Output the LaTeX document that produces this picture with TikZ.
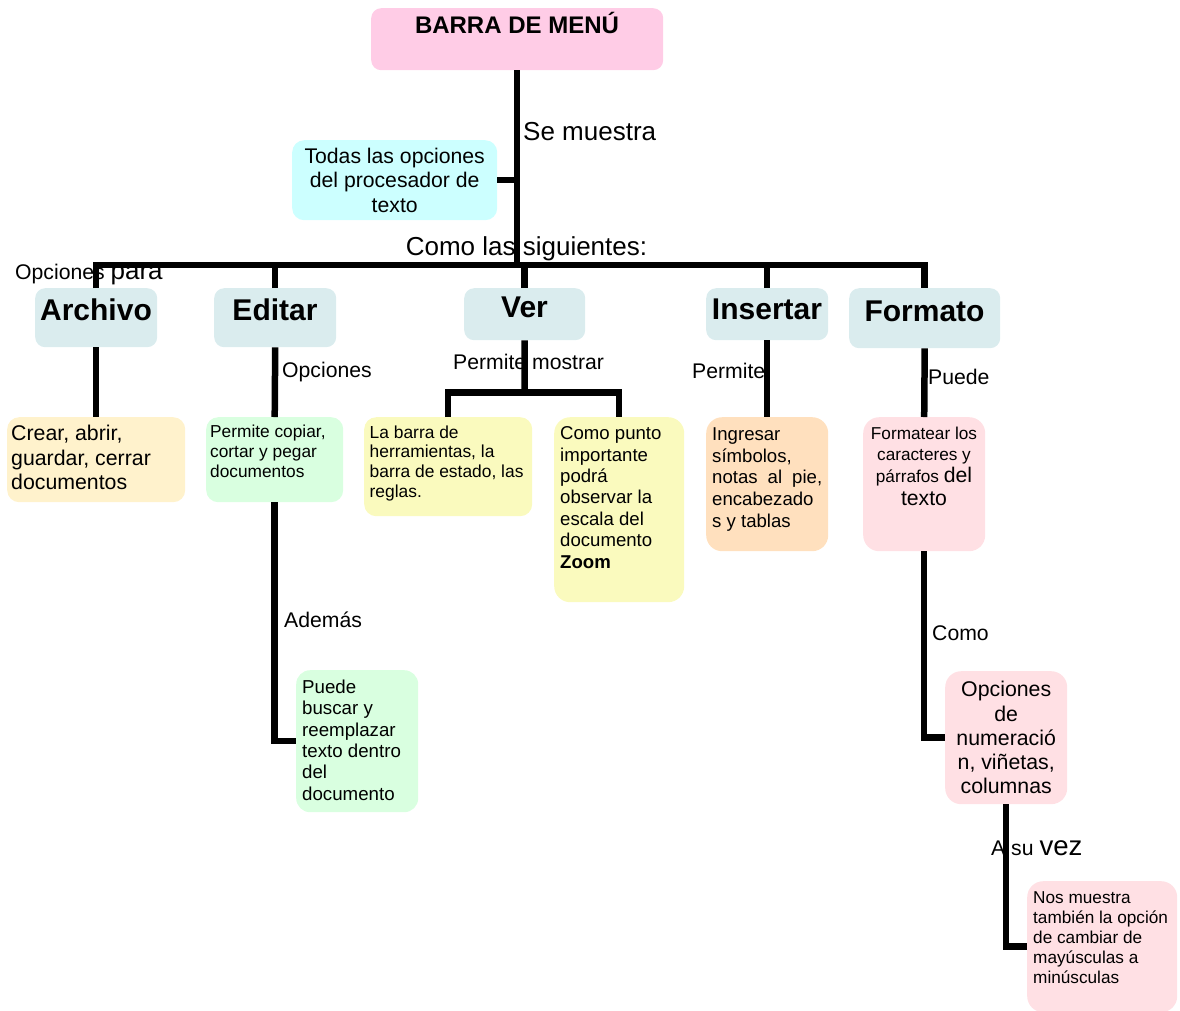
\documentclass[tikz,border=0pt]{standalone}
\usepackage{fontspec}
\setmainfont{Liberation Sans}
\definecolor{menupink}{RGB}{255,204,230}
\definecolor{cyanbox}{RGB}{204,255,255}
\definecolor{catbox}{RGB}{218,236,238}
\definecolor{creambox}{RGB}{255,242,204}
\definecolor{greenbox}{RGB}{217,255,224}
\definecolor{yellowbox}{RGB}{250,250,190}
\definecolor{orangebox}{RGB}{255,224,190}
\definecolor{rosebox}{RGB}{255,224,228}
\newcommand{\fsz}[2]{\fontsize{#1}{#2}\selectfont}

\begin{document}
\begin{tikzpicture}[x=1pt, y=-1pt,
    bx/.style={rectangle, rounded corners=10pt, inner sep=0pt, anchor=north west},
    hd/.style={anchor=base, inner sep=0pt, font=\fsz{30}{34}\bfseries},
    lbl/.style={anchor=base west, inner sep=0pt, font=\fsz{21.2}{24}},
    txt/.style={anchor=north west, inner sep=0pt, align=left},
    link/.style={line width=6.5pt}]
  \useasboundingbox (0,0) rectangle (1180,1010);

  % nivel superior
  \node[bx, fill=menupink, minimum width=292, minimum height=62] (menu) at (371,8) {};
  \node[anchor=base, inner sep=0pt, font=\fsz{24}{28}\bfseries] (menuT) at (517,33) {BARRA DE MENÚ};
  \node[bx, fill=cyanbox, rounded corners=12pt, minimum width=205, minimum height=80,
        align=center, font=\fsz{21.2}{24.4}] (todas) at (292,140) {Todas las opciones\\del procesador de\\texto};
  \node[lbl, font=\fsz{26}{30}] (seMuestra) at (523,140) {Se muestra};
  \node[lbl, anchor=base, font=\fsz{26}{30}] (comoLas) at (526.5,255) {Como las siguientes:};
  \node[lbl] (opcPara) at (15,279) {Opciones {\fsz{26}{30}para}};
  \coordinate (bar) at (517,265);

  % menus
  \node[bx, fill=catbox, minimum width=122, minimum height=59] (arch) at (35,288) {};
  \node[hd] (archT) at (96,320) {Archivo};
  \node[bx, fill=catbox, minimum width=122, minimum height=59] (edit) at (214,288) {};
  \node[hd] (editT) at (275,320) {Editar};
  \node[bx, fill=catbox, minimum width=121, minimum height=52] (ver) at (464,288) {};
  \node[hd] (verT) at (524.5,317) {Ver};
  \node[bx, fill=catbox, minimum width=122, minimum height=52] (ins) at (706,288) {};
  \node[hd] (insT) at (767,319) {Insertar};
  \node[bx, fill=catbox, minimum width=151, minimum height=60] (form) at (849,288) {};
  \node[hd] (formT) at (924.5,321) {Formato};

  \draw[link] (menu.south) -- (menu.south |- bar);
  \draw[link] (todas.east) -- (todas.east -| menu.south);
  \draw[link] (arch.north) -- (arch.north |- bar) -- (form.north |- bar) -- (form.north);
  \draw[link] (edit.north) -- (edit.north |- bar);
  \draw[link] (ver.north) -- (ver.north |- bar);
  \draw[link] (ins.north) -- (ins.north |- bar);

  % Archivo
  \node[bx, fill=creambox, rounded corners=12pt, minimum width=178, minimum height=85] (crear) at (7,417) {};
  \node[txt, font=\fsz{21.3}{24.4}] (crearT) at (11,425) {Crear, abrir,\\guardar, cerrar\\documentos};
  \draw[link] (arch.south) -- (crear.north);

  % Editar
  \node[bx, fill=greenbox, rounded corners=12pt, minimum width=137, minimum height=85] (copiar) at (206,417) {};
  \node[txt, font=\fsz{17.3}{20}] (copiarT) at (210,424.5) {Permite copiar,\\cortar y pegar\\documentos};
  \node[bx, fill=greenbox, rounded corners=14pt, minimum width=122, minimum height=142] (buscar) at (296,670) {};
  \node[txt, font=\fsz{18.7}{21.4}] (buscarT) at (302,679.5) {Puede\\buscar y\\reemplazar\\texto dentro\\del\\documento};
  \node[lbl] (opcEdit) at (282,377) {Opciones};
  \node[lbl] (ademas) at (284,627) {Además};
  \draw[link] (edit.south) -- (copiar.north);
  \draw[link] (copiar.south) |- (buscar.west);

  % Ver
  \coordinate (verSplit) at (524.5,392.5);
  \node[bx, fill=yellowbox, rounded corners=12pt, minimum width=168, minimum height=99] (barra) at (364,417) {};
  \node[txt, font=\fsz{17.4}{19.6}] (barraT) at (369.5,425.5) {La barra de\\herramientas, la\\barra de estado, las\\reglas.};
  \node[bx, fill=yellowbox, rounded corners=16pt, minimum width=130, minimum height=185] (punto) at (554,417) {};
  \node[txt, font=\fsz{18.6}{21.4}] (puntoT) at (560,426.5) {Como punto\\importante\\podrá\\observar la\\escala del\\documento\\\textbf{Zoom}};
  \node[lbl] (permMostrar) at (453,369) {Permite mostrar};
  \draw[link] (ver.south) -- (verSplit);
  \draw[link] (barra.north) |- (verSplit) -| (punto.north);

  % Insertar
  \node[bx, fill=orangebox, rounded corners=16pt, minimum width=122, minimum height=134] (ingr) at (706,417) {};
  \node[txt, font=\fsz{18.6}{21.7}] (ingrT) at (712,427.5) {Ingresar\\símbolos,\\\makebox[110pt][s]{notas al pie,}\\encabezado\\s y tablas};
  \node[lbl] (permite) at (692,378) {Permite};
  \draw[link] (ins.south) -- (ingr.north);

  % Formato
  \node[bx, fill=rosebox, rounded corners=16pt, minimum width=122, minimum height=134] (formt) at (863,417) {};
  \node[anchor=north, inner sep=0pt, align=center, font=\fsz{17.2}{21.5}] (formtT) at (924,426.5)
    {Formatear los\\caracteres y\\párrafos {\fsz{21.2}{24}del}\\[2pt]{\fsz{21.2}{24}texto}};
  \node[bx, fill=rosebox, rounded corners=16pt, minimum width=122, minimum height=133,
        align=center, font=\fsz{21.3}{24.3}] (numer) at (945,671) {Opciones\\de\\numeració\\n, viñetas,\\columnas};
  \node[bx, fill=rosebox, rounded corners=16pt, minimum width=150, minimum height=131] (nos) at (1027,881) {};
  \node[txt, font=\fsz{17.2}{20}] (nosT) at (1033,891) {Nos muestra\\también la opción\\de cambiar de\\mayúsculas a\\minúsculas};
  \node[lbl] (puede) at (928,384) {Puede};
  \node[lbl] (como) at (932,640) {Como};
  \node[lbl] (aSuVez) at (991,855) {A su {\fsz{27.6}{30}vez}};
  \draw[link] (form.south) -- (formt.north);
  \draw[link] (formt.south) |- (numer.west);
  \draw[link] (numer.south) |- (nos.west);
\end{tikzpicture}
\end{document}
